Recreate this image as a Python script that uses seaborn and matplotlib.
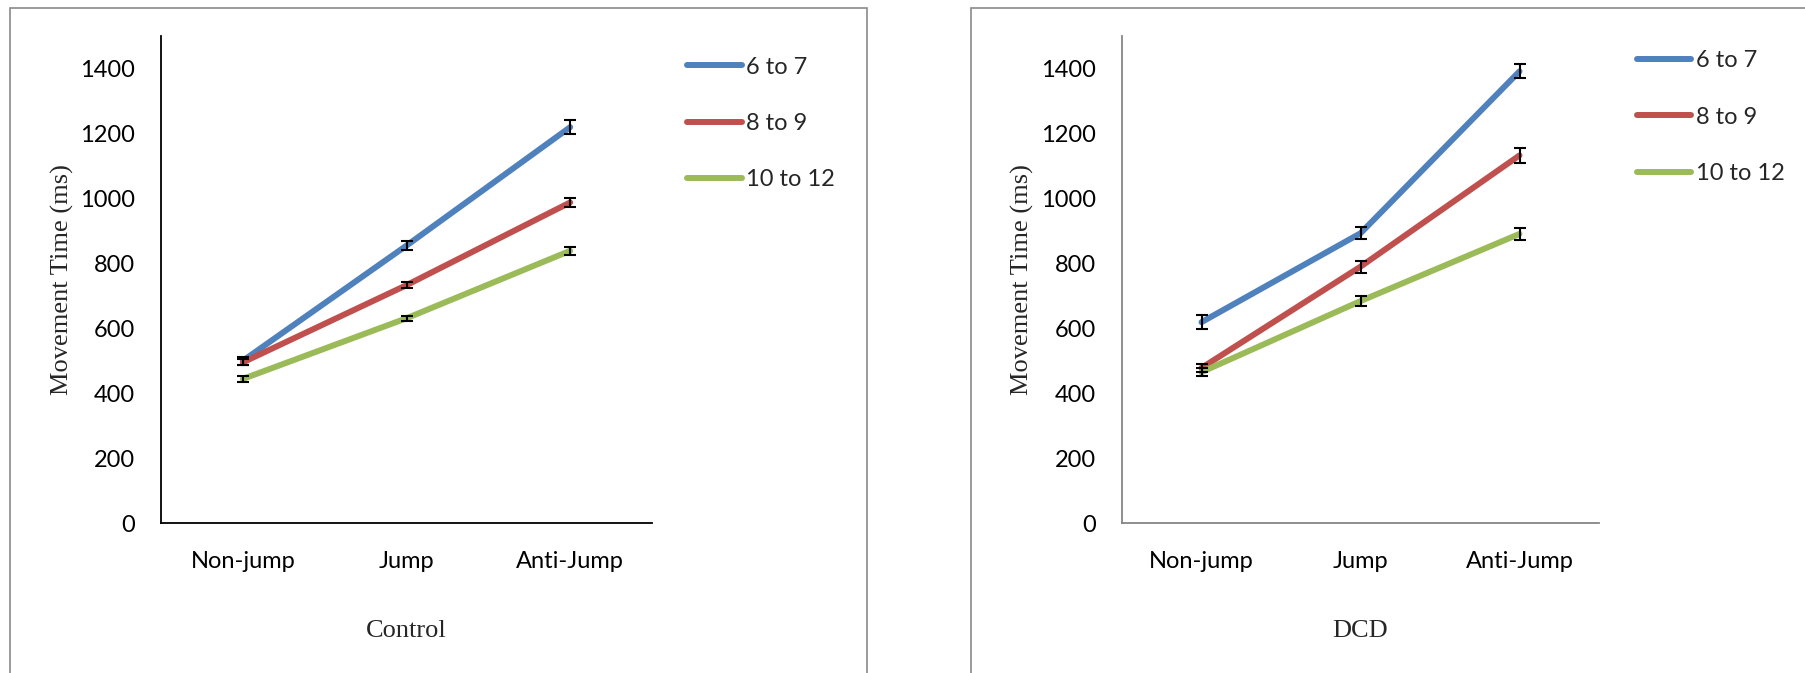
import numpy as np
import pandas as pd
import seaborn as sns
import matplotlib
matplotlib.use("Agg")
import matplotlib.pyplot as plt
from matplotlib.patches import Rectangle

# ---- data ----
categories = ["Non-jump", "Jump", "Anti-Jump"]
groups = ["6 to 7", "8 to 9", "10 to 12"]

control_6_7 = [500, 855, 1220]
control_8_9 = [495, 733, 988]
control_10_12 = [444, 631, 839]
control_err_6_7 = [12, 15, 21]
control_err_8_9 = [9, 9, 13]
control_err_10_12 = [9, 8, 13]

dcd_6_7 = [619, 893, 1392]
dcd_8_9 = [478, 790, 1133]
dcd_10_12 = [465, 684, 891]
dcd_err_6_7 = [22, 18, 22]
dcd_err_8_9 = [12, 18, 22]
dcd_err_10_12 = [12, 15, 19]

panel_titles = ["Control", "DCD"]
y_ticks = [0, 200, 400, 600, 800, 1000, 1200, 1400]
y_label = "Movement Time (ms)"

colors = ["#4F81BD", "#C0504D", "#9BBB59"]

def build_df(v1, v2, v3, e1, e2, e3):
    rows = []
    for g, vals, errs in zip(groups, [v1, v2, v3], [e1, e2, e3]):
        for i, c in enumerate(categories):
            rows.append({"group": g, "condition": c, "pos": i, "mt": vals[i], "err": errs[i]})
    return pd.DataFrame(rows)

df_control = build_df(control_6_7, control_8_9, control_10_12,
                      control_err_6_7, control_err_8_9, control_err_10_12)
df_dcd = build_df(dcd_6_7, dcd_8_9, dcd_10_12,
                  dcd_err_6_7, dcd_err_8_9, dcd_err_10_12)

sns.set_style("white")
plt.rcParams["font.family"] = ["Lato", "DejaVu Sans"]

W, H = 1805, 673
fig = plt.figure(figsize=(W / 100, H / 100), dpi=100)

# panel frames
fig.add_artist(Rectangle((10 / W, -0.05), (867 - 10) / W, 1.05 - 8 / H,
                         transform=fig.transFigure, fill=False,
                         ec="#8a8a8a", lw=1.2))
fig.add_artist(Rectangle((971 / W, -0.05), 0.5, 1.05 - 8 / H,
                         transform=fig.transFigure, fill=False,
                         ec="#8a8a8a", lw=1.2))

y0px, ytop = 523, 36.3
axes_specs = [
    (df_control, 161, 652, "black", 1.072, 0.958, -0.177, panel_titles[0]),
    (df_dcd, 1122, 1599, "#868686", 1.080, 0.971, -0.184, panel_titles[1]),
]

for df, xl, xr, spcol, lgx, lgy, ylx, title in axes_specs:
    ax = fig.add_axes([xl / W, (H - y0px) / H, (xr - xl) / W, (y0px - ytop) / H])
    sns.lineplot(data=df, x="pos", y="mt", hue="group", hue_order=groups,
                 palette=colors, linewidth=4.3, errorbar=None, legend=False,
                 ax=ax, solid_capstyle="round", sort=False)
    line_handles = list(ax.lines[:3])
    for g in groups:
        sub = df[df["group"] == g]
        ax.errorbar(sub["pos"], sub["mt"], yerr=sub["err"], fmt="none",
                    ecolor="black", elinewidth=1.5, capsize=4, capthick=1.5,
                    zorder=4)
    ax.set_xlim(-0.5, 2.5)
    ax.set_ylim(0, 1500)
    ax.set_yticks(y_ticks)
    ax.set_yticklabels([str(t) for t in y_ticks])
    ax.set_xticks(range(len(categories)))
    ax.set_xticklabels(categories)
    ax.set_xticks([-0.5, 0.5, 1.5, 2.5], minor=True)
    ax.tick_params(axis="x", which="major", length=0, pad=20, labelsize=17, labelcolor="black")
    ax.tick_params(axis="x", which="minor", length=9, width=1.3, color=spcol, direction="out")
    ax.tick_params(axis="y", which="major", length=8, width=1.3, color=spcol,
                   direction="out", pad=11, labelsize=17, labelcolor="black")
    for s in ["top", "right"]:
        ax.spines[s].set_visible(False)
    for s in ["left", "bottom"]:
        ax.spines[s].set_color(spcol)
        ax.spines[s].set_linewidth(1.3)
    ax.set_ylabel(y_label, fontsize=19, family=["Liberation Serif"])
    ax.yaxis.set_label_coords(ylx, 0.5)
    ax.set_xlabel(title, fontsize=19, family=["Liberation Serif"])
    ax.xaxis.set_label_coords(0.5, -0.199)
    ax.grid(False)
    ax.legend(line_handles, groups, loc="upper left", bbox_to_anchor=(lgx, lgy),
              frameon=False, fontsize=17, handlelength=2.3, handletextpad=0.2,
              labelspacing=1.49, borderaxespad=0, borderpad=0)

fig.savefig("out.png", dpi=100)
